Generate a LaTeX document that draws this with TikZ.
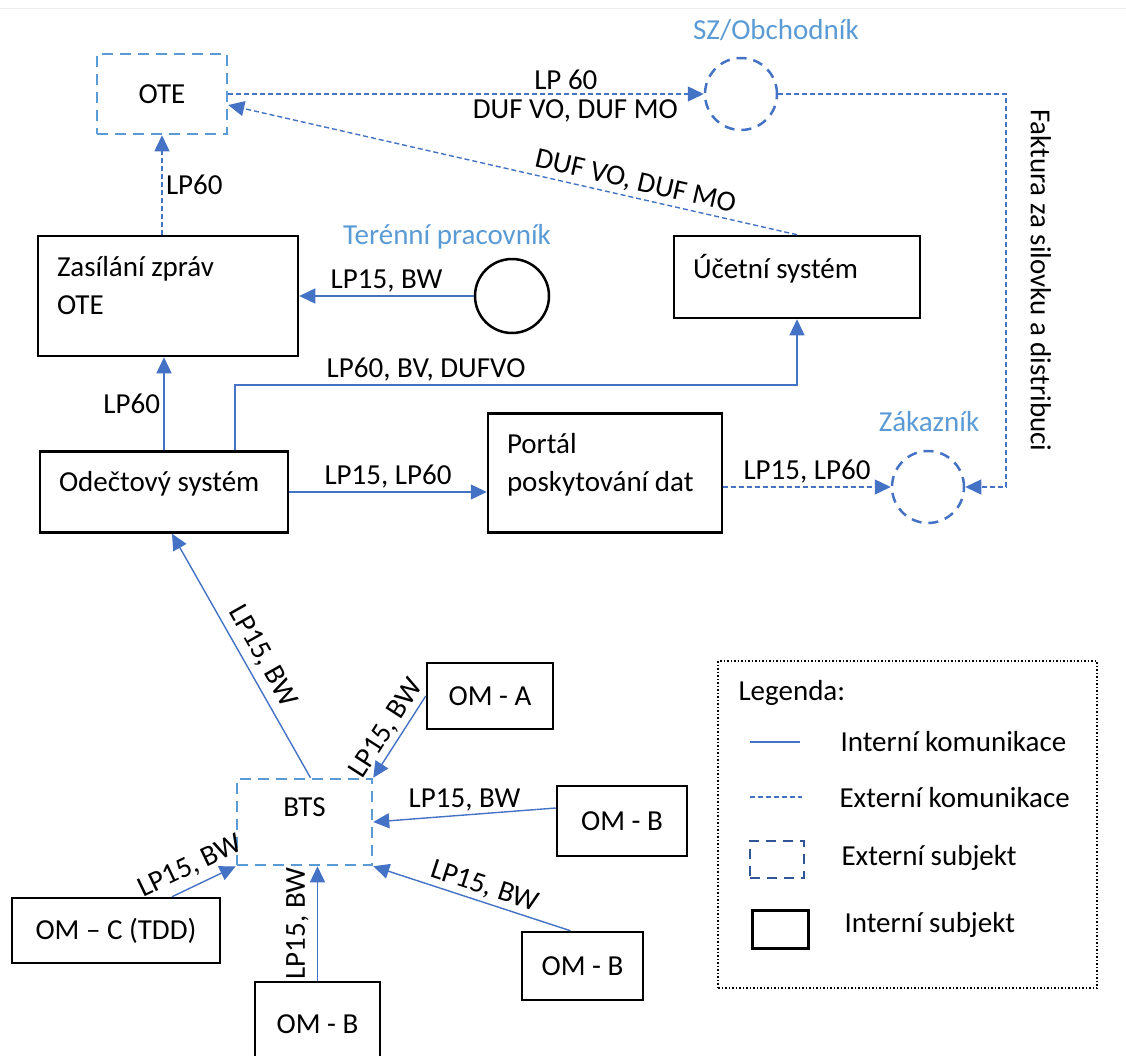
\documentclass[tikz,border=0pt]{standalone}
\usepackage{fontspec}
\setmainfont{Carlito}
\usetikzlibrary{arrows.meta}
\definecolor{linkblue}{HTML}{4472C4}
\definecolor{lightblue}{HTML}{5B9BD5}
\definecolor{darkblue}{HTML}{2F5597}
\begin{document}
\begin{tikzpicture}[x=1pt,y=-1pt,
		font=\fontsize{29}{38}\selectfont,
		intsubj/.style={draw,line width=2.5pt,inner xsep=19pt,align=flush left,text depth=22pt},
		omsubj/.style={draw,line width=2.5pt,align=center},
		extsubj/.style={draw=lightblue,line width=2.5pt,dash pattern=on 11pt off 7pt},
		extcircle/.style={draw=linkblue,circle,line width=2.5pt,dash pattern=on 10pt off 7pt,minimum size=72pt},
		intline/.style={draw=linkblue,line width=1.4pt,-{Triangle[length=16pt,width=15pt]}},
		extline/.style={intline,dash pattern=on 5pt off 3pt},
		bluetitle/.style={text=lightblue}]
	\useasboundingbox (0,0) rectangle (1126,1055);
	\draw[black!7] (0,8) -- (1126,8);
	% subjekty
	\node[extsubj,minimum width=130pt,minimum height=80pt] (ote) at (162,94) {OTE};
	\node[extcircle] (sz) at (741,94) {};
	\node[bluetitle] (szlbl) at (776,30) {SZ/Obchodník};
	\node[intsubj,text width=222pt,minimum height=120pt,text depth=60pt] (zas) at (168,296)
		{Zasílání zpráv\\OTE};
	\node[draw,circle,line width=2.5pt,minimum size=74pt] (ter) at (512,296) {};
	\node[bluetitle] (terlbl) at (447,237) {Terénní pracovník};
	\node[intsubj,text width=208pt,minimum height=82pt] (uct) at (797,277) {Účetní systém};
	\node[intsubj,text width=210pt,minimum height=81pt] (ode) at (164,492) {Odečtový systém};
	\node[intsubj,text width=196pt,minimum height=119pt,text depth=60pt] (por) at (605,473)
		{Portál\\poskytování dat};
	\node[extcircle] (zak) at (928,487) {};
	\node[bluetitle] (zaklbl) at (929,422) {Zákazník};
	\node[extsubj,minimum width=135pt,minimum height=86pt,text depth=30pt] (bts) at (304.5,822) {BTS};
	\node[omsubj,minimum width=126pt,minimum height=66pt] (oma) at (490,696) {OM - A};
	\node[omsubj,minimum width=130pt,minimum height=70pt] (omb1) at (622,821) {OM - B};
	\node[omsubj,minimum width=121pt,minimum height=68pt] (omb2) at (582.5,966) {OM - B};
	\node[omsubj,minimum width=125pt,minimum height=84pt] (omb3) at (317.5,1024) {OM - B};
	\node[omsubj,minimum width=208pt,minimum height=65pt] (omc) at (116,930.5) {OM – C (TDD)};
	\coordinate (bend) at (797,385);
	\coordinate (fakt) at (1006,487);
	% komunikace
	\draw[extline] (ote.south |- zas.north) -- (ote.south) node[midway,right] {LP60};
	\draw[extline] (ote.east) -- (sz.west)
		node[pos=0.71,above,inner sep=4pt] {LP 60} node[pos=0.73,below,inner sep=5pt] {DUF VO, DUF MO};
	\draw[extline] (uct.north) -- ([yshift=-11pt]ote.east)
		node[pos=0.29,sloped,above] {DUF VO, DUF MO};
	\draw[extline] (sz.east) -| (fakt)
		node[pos=0.737,anchor=south,rotate=-90,inner sep=24pt] {Faktura za silovku a distribuci}
		-- (zak.east);
	\draw[intline] (ter.west) -- (zas.east) node[midway,above] {LP15, BW};
	\draw[intline] (ode.north) -- (ode.north |- zas.south) node[midway,left] {LP60};
	\draw[intline] ([xshift=71pt]ode.north) |- node[pos=0.67,above] {LP60, BV, DUFVO} (bend) -- (uct.south);
	\draw[intline] (ode.east) -- (ode.east -| por.west) node[midway,above] {LP15, LP60};
	\draw[extline] (por.east |- zak) -- (zak.west) node[midway,above] {LP15, LP60};
	\draw[intline] ([xshift=6pt]bts.north) -- ([xshift=8pt]ode.south)
		node[pos=0.46,sloped,above=3pt] {LP15, BW};
	\draw[intline] (oma.west) -- (bts.north east) node[pos=0.5,sloped,above] {LP15, BW};
	\draw[intline] ([yshift=13pt]omb1.west) -- (bts.east) node[midway,above] {LP15, BW};
	\draw[intline] ([xshift=-12pt]omb2.north) -- (bts.south east)
		node[pos=0.46,sloped,above] {LP15, BW};
	\draw[intline] (omb3.north) -- (omb3.north |- bts.south) node[midway,sloped,above=5pt] {LP15, BW};
	\draw[intline] ([xshift=56pt]omc.north) -- (bts.south west)
		node[pos=0.42,sloped,above,yshift=4pt] {LP15, BW};
	% legenda
	\node[draw,dotted,line width=1.5pt,minimum width=379pt,minimum height=327pt] (legend) at (907.5,824.5) {};
	\node[anchor=west] (legtitle) at (735,693) {Legenda:};
	\coordinate (legintA) at (750,742);
	\coordinate (legintB) at (800,742);
	\draw[linkblue,line width=1.4pt] (legintA) -- (legintB);
	\node[anchor=west] (leginttxt) at (837,742) {Interní komunikace};
	\coordinate (legextA) at (750,797);
	\coordinate (legextB) at (802,797);
	\draw[linkblue,line width=1.4pt,dash pattern=on 5pt off 3pt] (legextA) -- (legextB);
	\node[anchor=west] (legexttxt) at (836,798) {Externí komunikace};
	\node[draw=darkblue,line width=2.5pt,dash pattern=on 10pt off 7pt,minimum width=54pt,minimum height=37pt] (legext) at (777,859.5) {};
	\node[anchor=west] (legextsubj) at (838,858) {Externí subjekt};
	\node[draw,line width=3pt,minimum width=56pt,minimum height=38pt] (legint) at (780,929) {};
	\node[anchor=west] (legintsubj) at (841,925) {Interní subjekt};
\end{tikzpicture}
\end{document}
